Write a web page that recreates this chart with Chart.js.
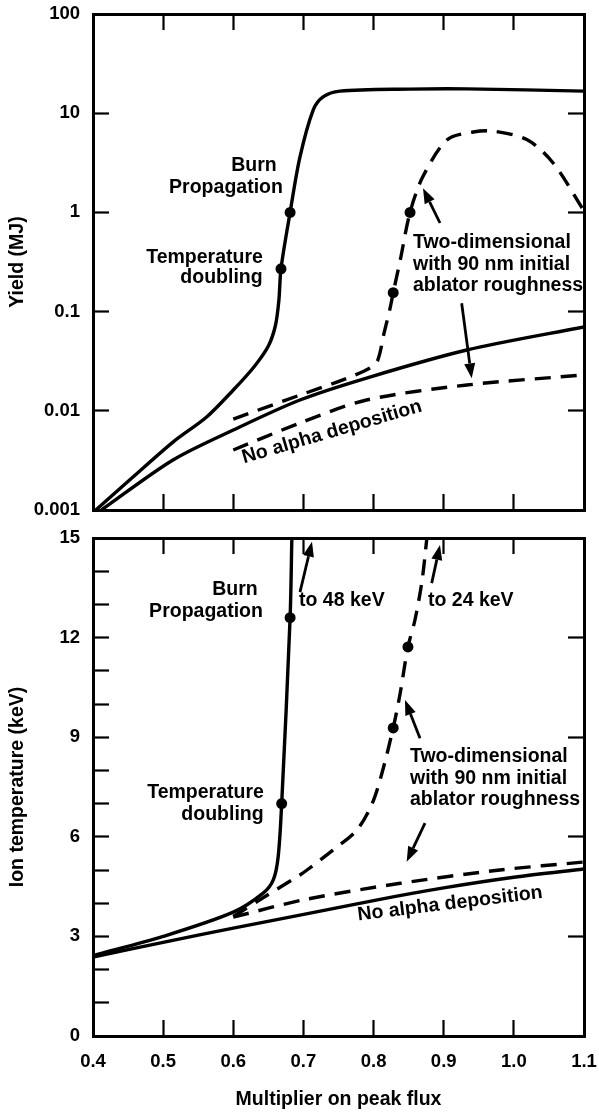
<!DOCTYPE html>
<html>
<head>
<meta charset="utf-8">
<script src="https://cdn.jsdelivr.net/npm/chart.js@4.4.1/dist/chart.umd.min.js"></script>
<style>
  html, body { margin: 0; padding: 0; background: #fff; }
  #wrap { position: relative; width: 599px; height: 1117px; }
  canvas { position: absolute; left: 0; }
  #yieldChart { top: 0; width: 599px; height: 530px; }
  #tempChart { top: 530px; width: 599px; height: 587px; }
</style>
</head>
<body>
<div id="wrap">
  <canvas id="yieldChart" width="599" height="530"></canvas>
  <canvas id="tempChart" width="599" height="587"></canvas>
</div>
<script>
// ---- Axis ticks and labels ----
const multiplierTicks = [0.4, 0.5, 0.6, 0.7, 0.8, 0.9, 1.0, 1.1];
const multiplierLabels = ['0.4', '0.5', '0.6', '0.7', '0.8', '0.9', '1.0', '1.1'];
const yieldTicks = [0.001, 0.01, 0.1, 1, 10, 100];
const yieldLabels = ['0.001', '0.01', '0.1', '1', '10', '100'];
const tempMinorTicks = [0, 1, 2, 3, 4, 5, 6, 7, 8, 9, 10, 11, 12, 13, 14, 15];
const tempMajorTicks = [0, 3, 6, 9, 12, 15];
const tempLabels = ['0', '3', '6', '9', '12', '15'];

// ---- Yield (MJ) vs multiplier on peak flux ----
// 1-D with alpha deposition
const yieldBurnX = [0.404, 0.457, 0.514, 0.562, 0.600, 0.630, 0.650, 0.660, 0.665, 0.668, 0.681, 0.695, 0.714, 0.728, 0.752, 0.850, 0.933, 1.100];
const yieldBurn  = [0.001, 0.00215, 0.00484, 0.00867, 0.0162, 0.028, 0.045, 0.072, 0.13, 0.27, 1.0, 3.6, 10.8, 14.6, 16.7, 17.5, 17.6, 16.7];
// 1-D, no alpha deposition
const yieldNoAlphaX = [0.412, 0.514, 0.600, 0.695, 0.790, 0.933, 1.100];
const yieldNoAlpha  = [0.001, 0.00319, 0.0064, 0.01285, 0.0214, 0.041, 0.070];
// 2-D, 90 nm ablator roughness
const yield2dX = [0.600, 0.695, 0.760, 0.795, 0.806, 0.815, 0.823, 0.828, 0.838, 0.852, 0.870, 0.905, 0.942, 0.970, 1.019, 1.056, 1.099];
const yield2d  = [0.00826, 0.0144, 0.021, 0.027, 0.0325, 0.061, 0.104, 0.155, 0.33, 1.0, 2.27, 5.4, 6.46, 6.6, 5.4, 3.15, 1.06];
// 2-D, no alpha deposition
const yield2dNoAlphaX = [0.600, 0.695, 0.790, 0.933, 1.100];
const yield2dNoAlpha  = [0.00403, 0.00753, 0.01285, 0.0182, 0.023];
// Marked points: temperature doubling, burn propagation
const yieldDotX = [0.668, 0.681, 0.828, 0.852];
const yieldDots = [0.27, 1.0, 0.155, 1.0];

// ---- Ion temperature (keV) vs multiplier on peak flux ----
const tempBurnX = [0.400, 0.500, 0.600, 0.643, 0.657, 0.664, 0.669, 0.681, 0.6835];
const tempBurn  = [2.42, 3.0, 3.73, 4.31, 4.7, 5.4, 7.0, 12.6, 15];
const tempNoAlphaX = [0.400, 0.500, 0.600, 0.695, 0.800, 0.900, 1.000, 1.100];
const tempNoAlpha  = [2.38, 2.82, 3.25, 3.64, 4.08, 4.46, 4.78, 5.03];
const temp2dX = [0.600, 0.643, 0.695, 0.709, 0.742, 0.776, 0.798, 0.812, 0.828, 0.838, 0.849, 0.859, 0.869, 0.876];
const temp2d  = [3.6, 4.17, 4.85, 5.06, 5.6, 6.2, 7.0, 7.92, 9.28, 10.33, 11.72, 12.53, 13.7, 15];
const temp2dNoAlphaX = [0.600, 0.700, 0.838, 0.980, 1.100];
const temp2dNoAlpha  = [3.58, 4.1, 4.6, 5.0, 5.24];
const tempDotX = [0.669, 0.681, 0.828, 0.849];
const tempDots = [7.0, 12.6, 9.28, 11.72];

const FONT = '"Liberation Sans", Arial, Helvetica, sans-serif';
const zip = (xs, ys) => xs.map((x, i) => ({ x: x, y: ys[i] }));

const solid = (xs, ys) => ({
  data: zip(xs, ys), borderColor: '#000', borderWidth: 3.4, pointRadius: 0,
  tension: 0.3, fill: false, borderCapStyle: 'butt', borderJoinStyle: 'round'
});
const dashed = (xs, ys) => Object.assign(solid(xs, ys), { borderDash: [16, 10] });
const dots = (xs, ys) => ({
  data: zip(xs, ys), showLine: false, pointRadius: 5.5, pointHoverRadius: 5.5,
  pointBackgroundColor: '#000', pointBorderWidth: 0, borderColor: '#000'
});

// Text and arrow callouts, anchored in data units
const callouts = {
  id: 'callouts',
  afterDatasetsDraw(chart, args, opts) {
    const { ctx } = chart;
    const sx = chart.scales.x, sy = chart.scales.y;
    ctx.save();
    ctx.fillStyle = '#000';
    ctx.strokeStyle = '#000';
    (opts.arrows || []).forEach(a => {
      const x0 = sx.getPixelForValue(a.from[0]), y0 = sy.getPixelForValue(a.from[1]);
      const x1 = sx.getPixelForValue(a.to[0]), y1 = sy.getPixelForValue(a.to[1]);
      const ang = Math.atan2(y1 - y0, x1 - x0);
      const hl = 15, hw = 5.5;
      const bx = x1 - hl * Math.cos(ang), by = y1 - hl * Math.sin(ang);
      ctx.lineWidth = 2.8;
      ctx.beginPath(); ctx.moveTo(x0, y0); ctx.lineTo(bx, by); ctx.stroke();
      ctx.beginPath();
      ctx.moveTo(x1, y1);
      ctx.lineTo(bx + hw * Math.sin(ang), by - hw * Math.cos(ang));
      ctx.lineTo(bx - hw * Math.sin(ang), by + hw * Math.cos(ang));
      ctx.closePath(); ctx.fill();
    });
    ctx.font = 'bold 19.5px ' + FONT;
    ctx.textBaseline = 'middle';
    (opts.labels || []).forEach(l => {
      ctx.save();
      ctx.translate(sx.getPixelForValue(l.x), sy.getPixelForValue(l.y));
      if (l.angle) ctx.rotate(l.angle * Math.PI / 180);
      ctx.textAlign = l.align || 'center';
      ctx.fillText(l.text, 0, 0);
      ctx.restore();
    });
    ctx.restore();
  }
};

const setTicks = values => scale => { scale.ticks = values.map(v => ({ value: v })); };
const frame = () => ({
  grid: { drawOnChartArea: false, drawTicks: true, tickLength: -16, tickWidth: 2.2, tickColor: '#000' },
  border: { display: true, color: '#000', width: 3 }
});
const fixW = w => s => { s.width = w; s.paddingTop = 0; s.paddingBottom = 0; };
const fixH = h => s => { s.height = h; s.paddingLeft = 0; s.paddingRight = 0; };
const tickFont = { family: FONT, size: 18.5, weight: 'bold' };
const titleFont = { family: FONT, size: 19.5, weight: 'bold' };

function xAxis(position, height, labelled) {
  return Object.assign(frame(), {
    type: 'linear', position: position, min: 0.4, max: 1.1,
    afterBuildTicks: setTicks(multiplierTicks),
    afterFit: fixH(height),
    ticks: labelled
      ? { display: true, autoSkip: false, maxRotation: 0, padding: 31, color: '#000', font: tickFont,
          callback: (v, i) => multiplierLabels[i] }
      : { display: false },
    title: labelled
      ? { display: true, text: 'Multiplier on peak flux', color: '#000', font: titleFont, padding: { top: 0, bottom: 6 } }
      : { display: false }
  });
}

const baseOptions = {
  responsive: false, animation: false, devicePixelRatio: 1,
  layout: { padding: 0 },
  plugins: { legend: { display: false }, tooltip: { enabled: false } },
  events: []
};

new Chart(document.getElementById('yieldChart'), {
  type: 'line',
  data: {
    datasets: [
      solid(yieldBurnX, yieldBurn),
      solid(yieldNoAlphaX, yieldNoAlpha),
      dashed(yield2dX, yield2d),
      dashed(yield2dNoAlphaX, yield2dNoAlpha),
      dots(yieldDotX, yieldDots)
    ]
  },
  options: Object.assign({}, baseOptions, {
    scales: {
      x: xAxis('bottom', 20, false),
      x2: xAxis('top', 14, false),
      y: Object.assign(frame(), {
        type: 'logarithmic', position: 'left', min: 0.001, max: 100,
        afterBuildTicks: setTicks(yieldTicks), afterFit: fixW(93),
        ticks: { autoSkip: false, padding: 29, color: '#000', font: tickFont, callback: (v, i) => yieldLabels[i] },
        title: { display: true, text: 'Yield (MJ)', color: '#000', font: titleFont, padding: { top: 6, bottom: 0 } }
      }),
      y2: Object.assign(frame(), {
        type: 'logarithmic', position: 'right', min: 0.001, max: 100,
        afterBuildTicks: setTicks(yieldTicks), afterFit: fixW(15),
        ticks: { display: false }
      })
    },
    plugins: Object.assign({}, baseOptions.plugins, {
      callouts: {
        labels: [
          { text: 'Burn', x: 0.6295, y: 2.94 },
          { text: 'Propagation', x: 0.5896, y: 1.76 },
          { text: 'Temperature', x: 0.559, y: 0.347 },
          { text: 'doubling', x: 0.5832, y: 0.218 },
          { text: 'Two-dimensional', x: 0.8562, y: 0.492, align: 'left' },
          { text: 'with 90 nm initial', x: 0.8562, y: 0.295, align: 'left' },
          { text: 'ablator roughness', x: 0.8562, y: 0.181, align: 'left' },
          { text: 'No alpha deposition', x: 0.7407, y: 0.00611, angle: -16.3 }
        ],
        arrows: [
          { from: [0.8947, 0.782], to: [0.8705, 1.75] },
          { from: [0.9256, 0.1213], to: [0.9399, 0.02128] }
        ]
      }
    })
  }),
  plugins: [callouts]
});

new Chart(document.getElementById('tempChart'), {
  type: 'line',
  data: {
    datasets: [
      solid(tempBurnX, tempBurn),
      solid(tempNoAlphaX, tempNoAlpha),
      dashed(temp2dX, temp2d),
      dashed(temp2dNoAlphaX, temp2dNoAlpha),
      dots(tempDotX, tempDots)
    ]
  },
  options: Object.assign({}, baseOptions, {
    scales: {
      x: xAxis('bottom', 81, true),
      x2: xAxis('top', 8, false),
      y: Object.assign(frame(), {
        type: 'linear', position: 'left', min: 0, max: 15,
        afterBuildTicks: setTicks(tempMinorTicks), afterFit: fixW(93),
        ticks: {
          autoSkip: false, padding: 29, color: '#000', font: tickFont,
          callback: v => { const k = tempMajorTicks.indexOf(v); return k >= 0 ? tempLabels[k] : ''; }
        },
        title: { display: true, text: 'Ion temperature (keV)', color: '#000', font: titleFont, padding: { top: 6, bottom: 0 } }
      }),
      y2: Object.assign(frame(), {
        type: 'linear', position: 'right', min: 0, max: 15,
        afterBuildTicks: setTicks(tempMajorTicks), afterFit: fixW(15),
        ticks: { display: false }
      })
    },
    plugins: Object.assign({}, baseOptions.plugins, {
      callouts: {
        labels: [
          { text: 'Burn', x: 0.6024, y: 13.43 },
          { text: 'Propagation', x: 0.5611, y: 12.77 },
          { text: 'Temperature', x: 0.5604, y: 7.32 },
          { text: 'doubling', x: 0.5846, y: 6.66 },
          { text: 'to 48 keV', x: 0.6937, y: 13.10, align: 'left' },
          { text: 'to 24 keV', x: 0.8776, y: 13.10, align: 'left' },
          { text: 'Two-dimensional', x: 0.8519, y: 8.40, align: 'left' },
          { text: 'with 90 nm initial', x: 0.8519, y: 7.74, align: 'left' },
          { text: 'ablator roughness', x: 0.8519, y: 7.11, align: 'left' },
          { text: 'No alpha deposition', x: 0.909, y: 3.98, angle: -7 }
        ],
        arrows: [
          { from: [0.6951, 13.37], to: [0.7122, 14.89] },
          { from: [0.8829, 13.64], to: [0.8947, 14.79] },
          { from: [0.8662, 8.97], to: [0.8448, 10.12] },
          { from: [0.8733, 6.41], to: [0.8472, 5.25] }
        ]
      }
    })
  }),
  plugins: [callouts]
});
</script>
</body>
</html>
